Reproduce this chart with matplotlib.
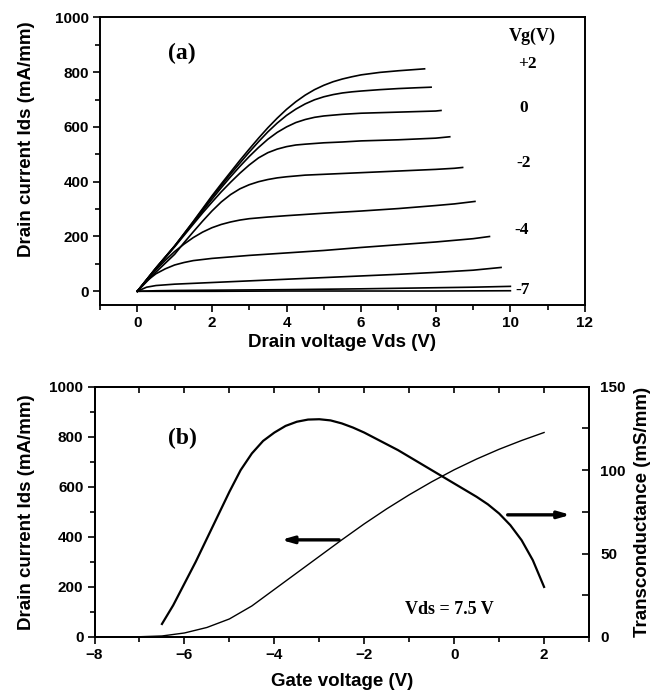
import matplotlib
matplotlib.use('Agg')
from matplotlib import pyplot as plt
from matplotlib.ticker import MultipleLocator

# ---- panel (a): output characteristics, Ids vs Vds for each Vg ----
vds_p2 = [0, 0.5, 1, 1.5, 2, 2.25, 2.5, 2.75, 3, 3.25, 3.5, 3.75, 4, 4.25, 4.5,
          4.75, 5, 5.25, 5.5, 5.75, 6, 6.5, 7, 7.5, 7.7]
ids_p2 = [0, 85, 165, 255, 348, 392, 435, 478, 519, 559, 597, 632, 664, 692, 716,
          736, 752, 765, 775, 783, 790, 799, 805, 810, 812]

vds_p1 = [0, 0.5, 1, 1.5, 2, 2.25, 2.5, 2.75, 3, 3.25, 3.5, 3.75, 4, 4.25, 4.5,
          4.75, 5, 5.25, 5.5, 5.75, 6, 6.5, 7, 7.5, 7.875]
ids_p1 = [0, 85, 165, 253, 344, 386, 428, 468, 508, 546, 582, 614, 642, 665, 684,
          699, 710, 718, 724, 728, 731, 736, 740, 743, 745]

vds_0 = [0, 0.5, 1, 1.5, 2, 2.25, 2.5, 2.75, 3, 3.25, 3.5, 3.75, 4, 4.25, 4.5,
         4.75, 5, 5.5, 6, 6.5, 7, 7.5, 8, 8.14]
ids_0 = [0, 85, 165, 250, 336, 378, 418, 456, 492, 525, 555, 580, 600, 616, 627,
         635, 640, 646, 650, 652, 654, 656, 658, 660]

vds_m1 = [0, 0.5, 1, 1.5, 1.75, 2, 2.25, 2.5, 2.75, 3, 3.25, 3.5, 3.75, 4, 4.25,
          4.5, 5, 5.5, 6, 6.5, 7, 7.5, 8, 8.375]
ids_m1 = [0, 82, 162, 245, 286, 325, 363, 398, 431, 461, 487, 506, 519, 528, 534,
          537, 542, 545, 549, 551, 553, 556, 559, 564]

vds_m2 = [0, 0.5, 1, 1.25, 1.5, 1.75, 2, 2.25, 2.5, 2.75, 3, 3.25, 3.5, 3.75, 4,
          4.5, 5, 5.5, 6, 6.5, 7, 7.5, 8, 8.5, 8.72]
ids_m2 = [0, 70, 135, 177, 217, 256, 293, 326, 353, 374, 389, 400, 408, 414, 418,
          424, 427, 430, 433, 436, 439, 442, 445, 449, 452]

vds_m3 = [0, 0.25, 0.5, 0.75, 1, 1.25, 1.5, 1.75, 2, 2.25, 2.5, 2.75, 3, 3.5, 4,
          5, 6, 7, 8, 8.5, 9.05]
ids_m3 = [0, 40, 78, 113, 145, 172, 196, 216, 232, 244, 253, 260, 265, 271, 276,
          285, 293, 302, 313, 319, 328]

vds_m4 = [0, 0.25, 0.5, 0.75, 1, 1.25, 1.5, 2, 3, 4, 5, 6, 7, 8, 9, 9.44]
ids_m4 = [0, 38, 64, 82, 96, 105, 112, 120, 131, 140, 149, 160, 170, 180, 192, 200]

vds_m5 = [0, 0.25, 0.5, 1, 2, 3, 4, 5, 6, 7, 8, 9, 9.75]
ids_m5 = [0, 15, 21, 26, 32, 38, 44, 50, 56, 62, 69, 77, 87]

vds_m6 = [0, 0.5, 1, 2, 4, 6, 8, 9, 10]
ids_m6 = [0, 2, 3, 4, 6, 9, 13, 15, 18]

vds_m7 = [0, 2, 4, 6, 8, 10]
ids_m7 = [0, 0, 1, 1, 1, 2]

curves_a = [(vds_p2, ids_p2), (vds_p1, ids_p1), (vds_0, ids_0), (vds_m1, ids_m1),
            (vds_m2, ids_m2), (vds_m3, ids_m3), (vds_m4, ids_m4), (vds_m5, ids_m5),
            (vds_m6, ids_m6), (vds_m7, ids_m7)]

# Vg labels on the right of panel (a): (text, vds, ids)
vg_marks = [('+2', 10.45, 829), ('0', 10.35, 668), ('-2', 10.35, 468),
            ('-4', 10.3, 225), ('-7', 10.32, 6)]

# ---- panel (b): transfer characteristics at Vds = 7.5 V ----
vgs_ids = [-8, -7.5, -7, -6.5, -6, -5.5, -5, -4.5, -4, -3.5, -3, -2.5, -2,
           -1.5, -1, -0.5, 0, 0.5, 1, 1.5, 2]
ids_b = [0, 0, 1, 4, 16, 38, 72, 124, 190, 256, 322, 388, 452,
         512, 568, 620, 668, 711, 750, 785, 817]

vgs_gm = [-6.5, -6.25, -6, -5.75, -5.5, -5.25, -5, -4.75, -4.5, -4.25, -4,
          -3.75, -3.5, -3.25, -3, -2.75, -2.5, -2.25, -2, -1.75, -1.5, -1.25,
          -1, -0.75, -0.5, -0.25, 0, 0.25, 0.5, 0.75, 1, 1.25, 1.5, 1.75, 2]
gm_b = [7.8, 19, 32, 45, 59, 73, 87, 100, 110, 117.5, 122.5,
        126.5, 129, 130.3, 130.5, 129.8, 128, 125.5, 122.5, 119, 115.5, 112,
        108, 104, 100, 96, 92, 88, 84, 79.5, 74, 67, 58, 46, 30]

plt.rcParams['font.family'] = ['Liberation Sans', 'DejaVu Sans']
plt.rcParams['font.weight'] = 'bold'
plt.rcParams['axes.labelweight'] = 'bold'
plt.rcParams['axes.linewidth'] = 1.4
plt.rcParams['xtick.major.width'] = 1.2
plt.rcParams['ytick.major.width'] = 1.2
plt.rcParams['xtick.minor.width'] = 1.2
plt.rcParams['ytick.minor.width'] = 1.2

serif = ['Liberation Serif', 'DejaVu Serif']
TICK_FS = 11
LABEL_FS = 13.5


def bold_ticks(ax):
    for lbl in ax.get_xticklabels() + ax.get_yticklabels():
        lbl.set_fontweight('bold')


fig = plt.figure(figsize=(6.51, 6.96), dpi=100)

# ---------------- panel (a) ----------------
ax1 = fig.add_axes([0.1536, 0.5618, 0.745, 0.4133])
for vds, ids in curves_a:
    ax1.plot(vds, ids, color='black', lw=1.2)

ax1.set_xlim(-1, 12)
ax1.set_ylim(-50, 1000)
ax1.xaxis.set_major_locator(MultipleLocator(2))
ax1.xaxis.set_minor_locator(MultipleLocator(1))
ax1.yaxis.set_major_locator(MultipleLocator(200))
ax1.yaxis.set_minor_locator(MultipleLocator(100))
ax1.tick_params(which='both', direction='out', labelsize=TICK_FS)
ax1.tick_params(which='major', length=5)
ax1.tick_params(which='minor', length=3.5)
ax1.tick_params(axis='x', pad=3)
ax1.tick_params(axis='y', pad=3)
bold_ticks(ax1)

ax1.set_xlabel('Drain voltage Vds (V)', fontsize=LABEL_FS)
ax1.set_ylabel('Drain current Ids (mA/mm)', fontsize=LABEL_FS)
ax1.xaxis.set_label_coords(0.5, -0.1)
ax1.yaxis.set_label_coords(-0.135, 0.576)

ax1.text(1.2, 869, '(a)', fontsize=17, family=serif, weight='bold',
         ha='center', va='center')
ax1.text(10.6, 930, 'Vg(V)', fontsize=13, family=serif, weight='bold',
         ha='center', va='center')
for txt, x, y in vg_marks:
    ax1.text(x, y, txt, fontsize=12.5, family=serif, weight='bold',
             ha='center', va='center')

# ---------------- panel (b) ----------------
ax2 = fig.add_axes([0.1452, 0.0848, 0.7596, 0.3596])
ax2.plot(vgs_ids, ids_b, color='black', lw=1.0)

ax2.set_xlim(-8, 3)
ax2.set_ylim(0, 1000)
ax2.xaxis.set_major_locator(MultipleLocator(2))
ax2.xaxis.set_minor_locator(MultipleLocator(1))
ax2.yaxis.set_major_locator(MultipleLocator(200))
ax2.yaxis.set_minor_locator(MultipleLocator(100))
ax2.tick_params(which='both', direction='out', labelsize=TICK_FS)
ax2.tick_params(which='major', length=5)
ax2.tick_params(which='minor', length=3.5)
ax2.tick_params(axis='x', pad=3)
ax2.tick_params(axis='y', pad=3)
bold_ticks(ax2)

top = ax2.secondary_xaxis('top')
top.xaxis.set_major_locator(MultipleLocator(1))
top.tick_params(direction='in', length=4.5, labeltop=False)

ax2.set_xlabel('Gate voltage (V)', fontsize=LABEL_FS)
ax2.set_ylabel('Drain current Ids (mA/mm)', fontsize=LABEL_FS)
ax2.xaxis.set_label_coords(0.5, -0.145)
ax2.yaxis.set_label_coords(-0.12, 0.5)

ax3 = ax2.twinx()
ax3.plot(vgs_gm, gm_b, color='black', lw=1.6)
ax3.set_ylim(0, 150)
ax3.yaxis.set_major_locator(MultipleLocator(50))
ax3.yaxis.set_minor_locator(MultipleLocator(25))
ax3.tick_params(which='both', direction='in', labelsize=TICK_FS, pad=8)
ax3.tick_params(which='major', length=5)
ax3.tick_params(which='minor', length=5)
bold_ticks(ax3)
ax3.set_ylabel('Transconductance (mS/mm)', fontsize=LABEL_FS)
ax3.yaxis.set_label_coords(1.09, 0.5)

arrow = dict(arrowstyle='-|>,head_length=0.7,head_width=0.2', color='black',
             lw=2.4, shrinkA=0, shrinkB=0, mutation_scale=10)
ax2.annotate('', xy=(-3.85, 388), xytext=(-2.56, 388), arrowprops=arrow)
ax2.annotate('', xy=(2.59, 488), xytext=(1.19, 488), arrowprops=arrow)

ax2.text(-6.04, 794, '(b)', fontsize=17, family=serif, weight='bold',
         ha='center', va='center')
ax2.text(-0.11, 109, 'Vds = 7.5 V', fontsize=13, family=serif, weight='bold',
         ha='center', va='center')

fig.savefig('out.png', dpi=100)
